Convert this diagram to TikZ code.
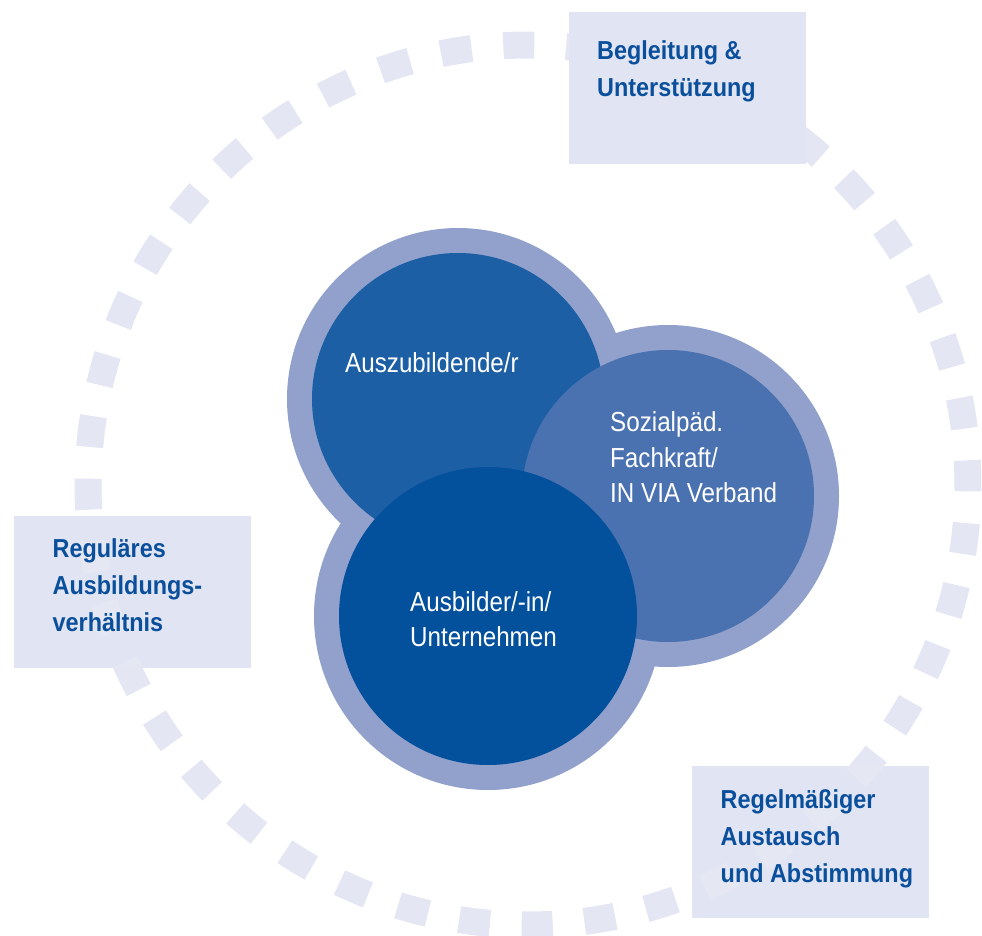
\documentclass[tikz,border=0pt]{standalone}
\usepackage{fontspec}
\setmainfont{Liberation Sans}
\newfontfamily\circfont[FakeStretch=0.88]{Liberation Sans}
\newfontfamily\boxfont[FakeStretch=0.9]{Liberation Sans}
\definecolor{dashc}{HTML}{E4E6F3}
\definecolor{boxc}{HTML}{E1E4F2}
\definecolor{ringc}{HTML}{91A1CC}
\definecolor{discA}{HTML}{1D5FA5}
\definecolor{discB}{HTML}{4A71B0}
\definecolor{discC}{HTML}{03509D}
\definecolor{boxtext}{HTML}{0A4F9C}
\tikzset{
  dashseg/.style={draw=dashc, line width=27pt},
  dashlight/.style={draw=white, opacity=0.14, line width=27pt},
  infobox/.style={rectangle, fill=boxc, minimum width=237pt, minimum height=152pt, inner sep=0pt, anchor=north west},
  disc/.style={circle, inner sep=0pt, draw=none},
  circtext/.style={inner sep=0pt, anchor=base west, text=white, font=\circfont\fontsize{27.5}{35.5}\selectfont},
  boxlabel/.style={inner sep=0pt, anchor=base west, text=boxtext, font=\boxfont\bfseries\fontsize{26}{37}\selectfont}
}
\begin{document}
\begin{tikzpicture}[x=1pt,y=-1pt]
\useasboundingbox (0,0) rectangle (982,936);
\coordinate (cc) at (528,485);
% dashed ring
\foreach \k in {0,...,43}{
  \pgfmathsetmacro\a{89.18+\k*360/44}
  \draw[dashseg] (cc) ++(\a:440pt) arc[start angle=\a, delta angle=4.04, radius=440pt];
}
% boxes
\node[infobox] (b1) at (569,12) {};
\node[infobox] (b2) at (14,516) {};
\node[infobox] (b3) at (692,766) {};
\begin{scope}
  \clip (14,516) rectangle ++(237,152) (692,766) rectangle ++(237,152);
  \foreach \k in {0,...,43}{
    \pgfmathsetmacro\a{89.18+\k*360/44}
    \draw[dashlight] (cc) ++(\a:440pt) arc[start angle=\a, delta angle=4.04, radius=440pt];
  }
\end{scope}
% circles
\node[disc, fill=ringc, minimum size=342pt] (r1) at (458,399) {};
\node[disc, fill=ringc, minimum size=342pt] (r2) at (668,496) {};
\node[disc, fill=ringc, minimum size=348pt] (r3) at (488,616) {};
\node[disc, fill=discA, minimum size=292pt] (d1) at (r1.center) {};
\node[disc, fill=discB, minimum size=292pt] (d2) at (r2.center) {};
\node[disc, fill=discC, minimum size=298pt] (d3) at (r3.center) {};
% circle texts
\node[circtext] (t1) at (345,372) {Auszubildende/r};
\node[circtext] (t2) at (610,431.5) {\begin{tabular}[t]{@{}l@{}}Sozialpäd.\\Fachkraft/\\IN VIA Verband\end{tabular}};
\node[circtext] (t3) at (410,611) {\begin{tabular}[t]{@{}l@{}}Ausbilder/-in/\\Unternehmen\end{tabular}};
% box texts
\node[boxlabel] (l1) at (597,60) {\begin{tabular}[t]{@{}l@{}}Begleitung \&\\Unterstützung\end{tabular}};
\node[boxlabel] (l2) at (52.5,557.7) {\begin{tabular}[t]{@{}l@{}}Reguläres\\Ausbildungs-\\verhältnis\end{tabular}};
\node[boxlabel] (l3) at (720.5,808) {\begin{tabular}[t]{@{}l@{}}Regelmäßiger\\Austausch\\und Abstimmung\end{tabular}};
\end{tikzpicture}
\end{document}
